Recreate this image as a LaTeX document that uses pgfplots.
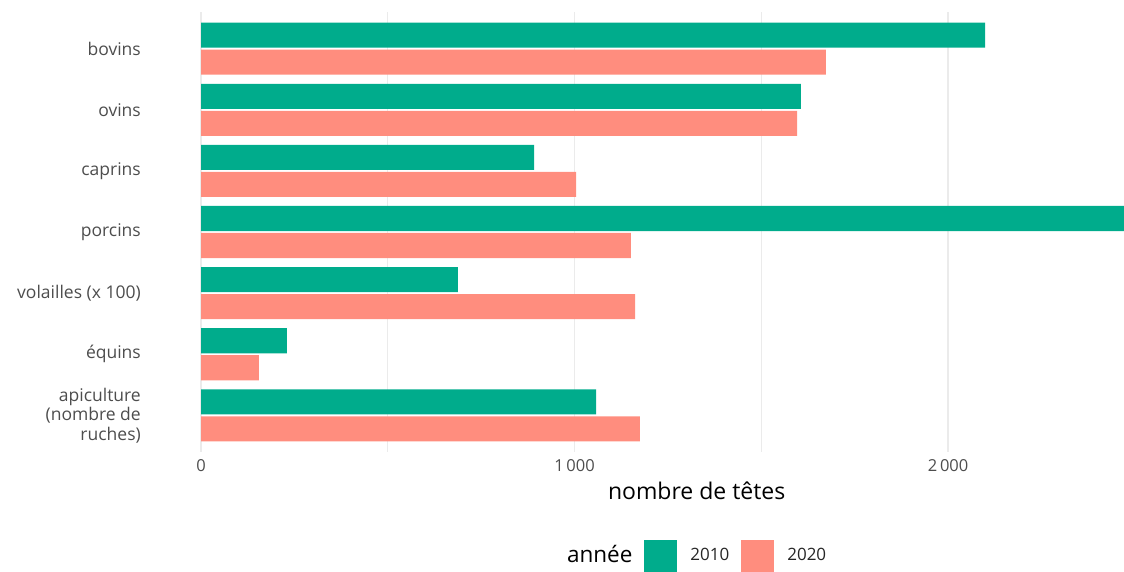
\documentclass[border=0pt]{standalone}
\usepackage{fontspec}
\setmainfont{Open Sans}
\usepackage{pgfplots}
\pgfplotsset{compat=1.18}
\definecolor{c2010}{HTML}{00AC8C}
\definecolor{c2020}{HTML}{FF8D7E}
\definecolor{txtgrey}{HTML}{4D4D4D}
\definecolor{gridgrey}{HTML}{EBEBEB}
\begin{document}
\begin{tikzpicture}
\begin{axis}[
  at={(201pt,119pt)}, anchor=south west,
  scale only axis, width=923pt, height=440pt,
  xmin=0, xmax=2471, ymin=-0.6, ymax=6.6, y dir=reverse,
  axis line style={draw=none}, tick style={draw=none},
  major tick length=0pt, minor tick length=0pt,
  xtick={0,1000,2000}, xticklabels={0,1\,000,2\,000},
  minor xtick={500,1500,2500},
  xmajorgrids, xminorgrids,
  major grid style={gridgrey, line width=1.3pt},
  minor grid style={gridgrey, line width=1.3pt},
  ytick={0,1,2,3,4,5,6},
  yticklabels={bovins,ovins,caprins,porcins,volailles (x 100),équins,{apiculture\\(nombre de\\ruches)}},
  yticklabel style={align=right, anchor=east, inner sep=0pt, xshift=-60pt, font=\fontsize{17.5}{19.5}\selectfont, text=txtgrey},
  xticklabel style={anchor=north, inner sep=0pt, yshift=-7pt, font=\fontsize{16.5}{20}\selectfont, text=txtgrey},
  xlabel={nombre de têtes},
  xlabel style={at={(axis description cs:0.537,-0.109)}, anchor=base, inner sep=0pt, font=\fontsize{23}{28}\selectfont, text=black},
  legend columns=3,
  legend style={draw=none, fill=none, at={(0.3825,-0.2386)}, anchor=west,
    inner sep=0pt, outer sep=0pt, nodes={inner sep=0pt},
    font=\fontsize{17}{20}\selectfont, text=black!85,
    /tikz/every odd column/.append style={column sep=13pt},
    /tikz/every even column/.append style={column sep=12pt}},
]
\addlegendimage{empty legend}
\addlegendentry{{\fontsize{22.5}{28}\selectfont\color{black}année}}
\addplot[xbar, fill=c2010, draw=none, bar width=0.41, bar shift=-0.221,
  legend image code/.code={\fill[c2010] (0pt,-18.5pt) rectangle (33pt,14.5pt);}]
  coordinates {(2099,0) (1606,1) (892,2) (2600,3) (688,4) (230,5) (1058,6)};
\addlegendentry{2010}
\addplot[xbar, fill=c2020, draw=none, bar width=0.41, bar shift=0.221,
  legend image code/.code={\fill[c2020] (0pt,-18.5pt) rectangle (33pt,14.5pt);}]
  coordinates {(1673,0) (1596,1) (1004,2) (1151,3) (1162,4) (155,5) (1175,6)};
\addlegendentry{2020}
\end{axis}
\pgfresetboundingbox
\path (0pt,0pt) rectangle (1124pt,571pt);
\end{tikzpicture}
\end{document}
